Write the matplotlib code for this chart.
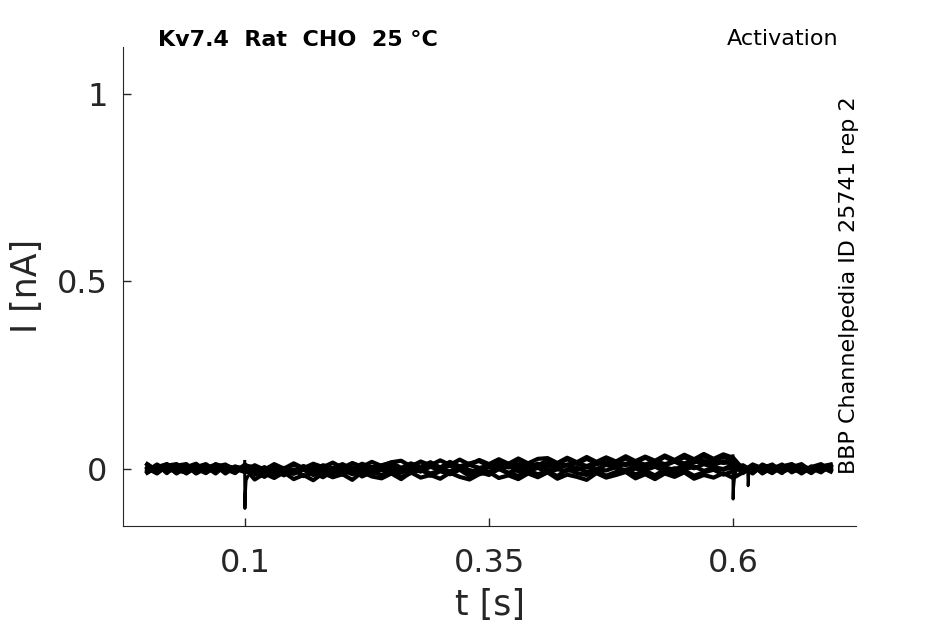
import numpy as np
import matplotlib
matplotlib.use("Agg")
import matplotlib.pyplot as plt

# sampling grid of the sweeps (s)
t = np.linspace(0, 0.7, 71)

# current sweeps in nA (pre 0-0.1 s, step 0.11-0.6 s, post 0.61-0.7 s)
sweep_a = [0.012, -0.008, 0.013, -0.003, -0.010, 0.012, -0.006, 0.009, -0.012, 0.005, 0.002,
           -0.028, -0.012, -0.024, -0.009, -0.027, -0.016, -0.030, -0.011, -0.022, -0.014,
           -0.029, -0.008, -0.020, -0.025, -0.012, -0.027, -0.009, -0.023, -0.016, -0.026,
           -0.010, -0.021, -0.028, -0.014, -0.008, -0.024, -0.017, -0.027, -0.012, -0.022,
           -0.009, -0.026, -0.015, -0.021, -0.029, -0.011, -0.023, -0.016, -0.008, -0.025,
           -0.014, -0.027, -0.012, -0.021, -0.009, -0.026, -0.016, -0.023, -0.011, -0.024,
           -0.009, 0.011, -0.012, 0.006, -0.004, 0.012, -0.010, 0.004, -0.006, 0.009]
sweep_b = [-0.006, 0.012, -0.011, 0.009, 0.013, -0.009, 0.006, -0.012, 0.010, 0.000, -0.008,
           -0.006, -0.021, -0.003, -0.017, -0.001, -0.019, -0.010, -0.022, -0.005, -0.015,
           -0.002, -0.020, -0.008, -0.016, -0.004, -0.021, -0.011, -0.001, -0.018, -0.006,
           -0.014, -0.002, -0.019, -0.008, -0.016, 0.000, -0.012, -0.018, -0.004, -0.014,
           -0.006, -0.019, -0.001, -0.011, -0.016, -0.004, -0.018, -0.008, -0.002, -0.014,
           -0.005, -0.017, -0.001, -0.012, -0.004, -0.018, -0.009, -0.002, -0.015, -0.006,
           0.006, -0.012, 0.010, -0.005, 0.012, -0.009, 0.004, -0.011, 0.008, -0.003]
sweep_c = [0.013, -0.004, 0.008, -0.012, 0.005, 0.014, -0.006, 0.010, 0.000, -0.011, 0.011,
           -0.002, -0.016, 0.001, -0.013, -0.006, 0.003, -0.015, -0.001, -0.012, 0.002,
           -0.008, 0.004, -0.011, -0.002, 0.005, -0.009, 0.002, -0.007, 0.006, -0.004,
           -0.006, 0.007, -0.003, -0.009, 0.006, -0.001, 0.008, -0.006, 0.001, 0.009,
           -0.004, 0.005, 0.010, -0.002, 0.007, 0.000, 0.011, 0.003, -0.003, 0.009,
           0.001, 0.012, 0.004, -0.002, 0.010, 0.002, 0.013, 0.004, 0.000, 0.011,
           -0.011, 0.007, -0.003, 0.012, -0.008, 0.005, 0.013, -0.006, 0.010, 0.000]
sweep_d = [-0.010, 0.005, 0.013, -0.005, 0.009, -0.012, 0.002, 0.012, -0.007, 0.007, -0.002,
           -0.007, 0.005, -0.011, 0.001, -0.005, 0.008, -0.003, 0.006, -0.009, 0.004,
           -0.001, 0.009, -0.004, 0.006, 0.011, -0.002, 0.008, 0.002, 0.012, -0.001,
           0.009, 0.002, 0.013, 0.000, 0.010, 0.004, 0.014, 0.001, 0.011, 0.005,
           0.015, 0.002, 0.012, 0.016, 0.004, 0.013, 0.018, 0.006, 0.014, 0.019,
           0.006, 0.017, 0.009, 0.020, 0.007, 0.018, 0.022, 0.010, 0.021, 0.012,
           0.007, -0.010, 0.012, 0.000, -0.006, 0.010, -0.012, 0.005, 0.013, -0.004]
sweep_e = [0.002, -0.012, 0.009, 0.013, -0.004, 0.007, -0.010, 0.013, 0.005, -0.006, 0.009,
           0.005, -0.007, 0.009, -0.002, 0.012, 0.000, -0.004, 0.010, 0.003, 0.013,
           0.000, 0.014, 0.004, 0.010, 0.017, 0.003, 0.015, 0.006, 0.018, 0.004,
           0.019, 0.007, 0.015, 0.021, 0.008, 0.022, 0.011, 0.023, 0.012, 0.009,
           0.024, 0.013, 0.026, 0.014, 0.027, 0.015, 0.029, 0.016, 0.028, 0.017,
           0.030, 0.018, 0.032, 0.019, 0.031, 0.020, 0.034, 0.021, 0.033, 0.022,
           -0.006, 0.012, 0.002, -0.011, 0.007, 0.013, -0.005, 0.002, -0.009, 0.010]
sweep_f = [-0.009, 0.011, 0.000, 0.012, -0.012, 0.005, 0.013, -0.004, 0.008, 0.002, -0.006,
           0.010, -0.002, 0.013, 0.001, 0.015, 0.002, 0.014, 0.005, 0.017, 0.003,
           0.016, 0.006, 0.019, 0.008, 0.018, 0.022, 0.007, 0.020, 0.010, 0.023,
           0.011, 0.025, 0.012, 0.024, 0.013, 0.026, 0.014, 0.028, 0.015, 0.027,
           0.029, 0.016, 0.030, 0.018, 0.032, 0.019, 0.031, 0.020, 0.034, 0.021,
           0.033, 0.022, 0.036, 0.024, 0.038, 0.026, 0.040, 0.027, 0.039, 0.030,
           0.000, -0.009, 0.009, 0.005, -0.011, 0.012, 0.002, -0.006, 0.007, 0.012]
sweep_g = [0.005, -0.010, 0.007, 0.011, -0.005, 0.001, -0.011, 0.006, 0.012, -0.004, 0.007,
           -0.015, -0.004, -0.018, -0.006, -0.013, -0.002, -0.016, -0.007, -0.011, -0.003,
           -0.014, -0.005, -0.010, -0.001, -0.013, -0.006, -0.009, 0.000, -0.012, -0.004,
           -0.008, 0.001, -0.011, -0.003, -0.007, 0.002, -0.010, -0.002, -0.006, 0.003,
           -0.009, -0.001, -0.005, 0.004, -0.008, 0.000, -0.004, 0.005, -0.007, 0.001,
           -0.003, 0.006, -0.006, 0.002, -0.002, 0.007, -0.005, 0.003, -0.001, 0.004,
           0.010, -0.005, 0.004, 0.011, -0.007, 0.001, -0.010, 0.007, -0.002, 0.006]
sweep_h = [-0.001, 0.009, -0.007, 0.002, 0.012, -0.011, 0.010, -0.002, 0.004, -0.009, 0.012,
           -0.010, 0.001, -0.007, 0.003, -0.008, -0.001, 0.004, -0.006, 0.002, -0.004,
           0.005, -0.002, 0.006, -0.003, 0.008, 0.000, 0.007, -0.001, 0.009, 0.002,
           0.010, 0.001, 0.011, 0.003, 0.008, 0.013, 0.004, 0.012, 0.006, 0.014,
           0.007, 0.015, 0.009, 0.016, 0.008, 0.017, 0.011, 0.019, 0.010, 0.018,
           0.012, 0.021, 0.013, 0.020, 0.015, 0.023, 0.014, 0.022, 0.016, 0.019,
           -0.004, 0.007, -0.010, 0.002, 0.011, -0.006, 0.009, -0.001, 0.005, -0.007]
sweeps = [sweep_a, sweep_b, sweep_c, sweep_d, sweep_e, sweep_f, sweep_g, sweep_h]

# capacitive transients at the step edges
on_t = [0.0998, 0.1, 0.1003, 0.1012, 0.103]
on_i = [0.02, -0.105, -0.07, -0.03, -0.02]
off_t = [0.5998, 0.6, 0.6004, 0.6015, 0.603]
off_i = [0.035, -0.08, -0.05, -0.02, -0.005]
off2_t = [0.6148, 0.6153, 0.616, 0.617]
off2_i = [0.0, -0.045, -0.015, -0.002]

xticks = [0.1, 0.35, 0.6]
xticklabels = ["0.1", "0.35", "0.6"]
yticks = [0, 0.5, 1]
yticklabels = ["0", "0.5", "1"]

fig = plt.figure(figsize=(9.45, 6.24), dpi=100)
ax = fig.add_axes([0.130, 0.157, 0.776, 0.768])

for s in sweeps:
    ax.plot(t, s, color="black", lw=3.0)
ax.plot(on_t, on_i, color="black", lw=2.2)
ax.plot(off_t, off_i, color="black", lw=2.2)
ax.plot(off2_t, off2_i, color="black", lw=2.0)

ax.set_xlim(-0.025, 0.726)
ax.set_ylim(-0.152, 1.125)
ax.set_xticks(xticks)
ax.set_xticklabels(xticklabels)
ax.set_yticks(yticks)
ax.set_yticklabels(yticklabels)

for side in ["top", "right"]:
    ax.spines[side].set_visible(False)
for side in ["left", "bottom"]:
    ax.spines[side].set_color("#262626")
ax.tick_params(direction="in", length=6, width=1, colors="#262626", labelsize=23)
ax.tick_params(axis="x", pad=16)
ax.tick_params(axis="y", pad=11)

ax.set_xlabel("t [s]", fontsize=25, color="#262626", labelpad=6)
ax.set_ylabel("I [nA]", fontsize=25, color="#262626", labelpad=9)

fig.text(0.167, 0.936, "Kv7.4  Rat  CHO  25 °C", fontsize=16, fontweight="bold", va="center")
fig.text(0.769, 0.938, "Activation", fontsize=16, va="center")
fig.text(0.898, 0.240, "BBP Channelpedia ID 25741 rep 2", fontsize=16, rotation=90,
         ha="center", va="bottom")

fig.savefig("out.png", dpi=100)
